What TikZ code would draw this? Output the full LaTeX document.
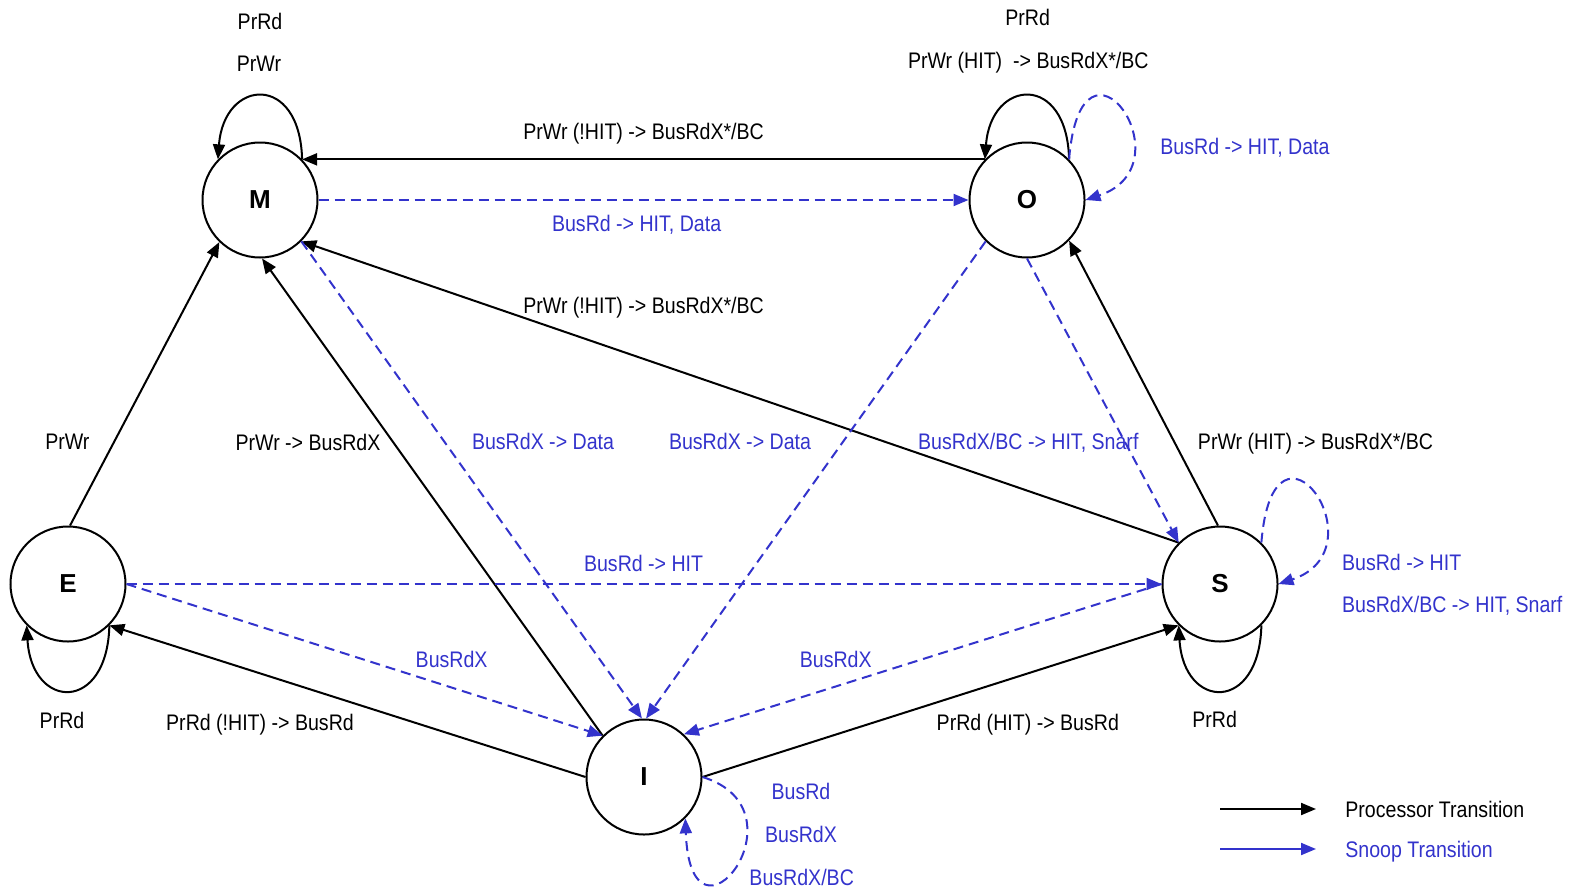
\documentclass[tikz,border=0pt]{standalone}
\usepackage{fontspec}
\setmainfont{Liberation Sans}[FakeStretch=0.87]
\newfontfamily\statefont{Liberation Sans}
\usetikzlibrary{arrows.meta}
\definecolor{snoop}{RGB}{51,51,204}
\begin{document}
\begin{tikzpicture}[x=0.5pt,y=-0.5pt,
  state/.style={circle,draw,line width=1pt,minimum size=57.5pt,inner sep=0pt,
    font=\statefont\fontsize{13}{15}\selectfont\bfseries},
  tip/.style={-{Triangle[length=7.5pt,width=6pt]}},
  proc/.style={draw=black,line width=1pt,tip},
  snp/.style={draw=snoop,line width=1pt,dash pattern=on 5pt off 3pt,tip,color=snoop},
  lbl/.style={font=\fontsize{11.25}{13}\selectfont,anchor=base,inner sep=0pt},
  slbl/.style={lbl,text=snoop},
]
\useasboundingbox (0,0) rectangle (1577,888);

% states
\node[state] (M) at (260,200) {M};
\node[state] (O) at (1027,200) {O};
\node[state] (E) at (68,584) {E};
\node[state] (S) at (1220,584) {S};
\node[state] (I) at (644,777) {I};

% processor transitions
\draw[proc] (O.136) -- (M.44);
\draw[proc] (M.44) .. controls +(-2,-87) and +(6,-81) .. (M.136);
\draw[proc] (O.44) .. controls +(-2,-87) and +(6,-81) .. (O.136);
\draw[proc] (S.92) -- (O.-44);
\draw[proc] (S.135) -- (M.-45);
\draw[proc] (I.135) -- (M.-88);
\draw[proc] (E.88) -- (M.226);
\draw[proc] (I.180) -- (E.-45);
\draw[proc] (E.-45) .. controls +(-2,88) and +(5,85) .. (E.225);
\draw[proc] (I.east) -- (S.225);
\draw[proc] (S.-45) .. controls +(-2,88) and +(5,85) .. (S.225);

% snoop transitions
\draw[snp] (M.east) -- (O.west);
\draw[snp] (O.44) .. controls +(12,-150) and +(105,-35) .. (O.east);
\draw[snp] (O.south) -- (S.135);
\draw[snp] (M.-45) -- (I.92);
\draw[snp] (O.-135) -- (I.88);
\draw[snp] (E.east) -- (S.west);
\draw[snp] (E.east) -- (I.135);
\draw[snp] (S.west) -- (I.47);
\draw[snp] (S.45) .. controls +(12,-150) and +(105,-35) .. (S.east);
\draw[snp] (I.east) .. controls +(108,33) and +(5,147) .. (I.-45);

% transition labels
\node[lbl] (lmrd) at (260,29.5) {PrRd};
\node[lbl] (lmwr) at (259,71.7) {PrWr};
\node[lbl] (lord) at (1027.7,26) {PrRd};
\node[lbl] (lowr) at (1028.3,68.3) {PrWr (HIT)~~-> BusRdX*/BC};
\node[slbl,anchor=base west] (lobr) at (1160,154.3) {BusRd -> HIT, Data};
\node[lbl] (lom) at (643.6,139) {PrWr (!HIT) -> BusRdX*/BC};
\node[slbl] (lmo) at (636.6,231) {BusRd -> HIT, Data};
\node[lbl] (lsm) at (643.6,313) {PrWr (!HIT) -> BusRdX*/BC};
\node[lbl] (lem) at (67.4,449.5) {PrWr};
\node[lbl] (lim) at (308,450) {PrWr -> BusRdX};
\node[slbl] (lmi) at (543,449.5) {BusRdX -> Data};
\node[slbl] (loi) at (740,449.5) {BusRdX -> Data};
\node[slbl] (los) at (1028.3,449.3) {BusRdX/BC -> HIT, Snarf};
\node[lbl] (lso) at (1315.5,449.5) {PrWr (HIT) -> BusRdX*/BC};
\node[slbl] (les) at (643.6,571) {BusRd -> HIT};
\node[slbl,anchor=base west] (lsa) at (1341.7,570) {BusRd -> HIT};
\node[slbl,anchor=base west] (lsb) at (1341.7,612.7) {BusRdX/BC -> HIT, Snarf};
\node[slbl] (lei) at (451.6,667) {BusRdX};
\node[slbl] (lsi) at (835.7,667) {BusRdX};
\node[lbl] (lee) at (62,728.3) {PrRd};
\node[lbl] (lie) at (260,730) {PrRd (!HIT) -> BusRd};
\node[lbl] (lis) at (1027.8,730) {PrRd (HIT) -> BusRd};
\node[lbl] (lss) at (1214.7,727) {PrRd};
\node[slbl] (lia) at (801,799.3) {BusRd};
\node[slbl] (lib) at (801,842.7) {BusRdX};
\node[slbl] (lic) at (801.7,885) {BusRdX/BC};

% legend
\coordinate (pa) at (1220,809);
\coordinate (pb) at (1316,809);
\coordinate (sa) at (1220,849);
\coordinate (sb) at (1316,849);
\draw[proc] (pa) -- (pb);
\draw[draw=snoop,color=snoop,line width=1pt,tip] (sa) -- (sb);
\node[lbl,anchor=base west] (lgp) at (1345,817.7) {Processor Transition};
\node[slbl,anchor=base west] (lgs) at (1345,857.3) {Snoop Transition};
\end{tikzpicture}
\end{document}
